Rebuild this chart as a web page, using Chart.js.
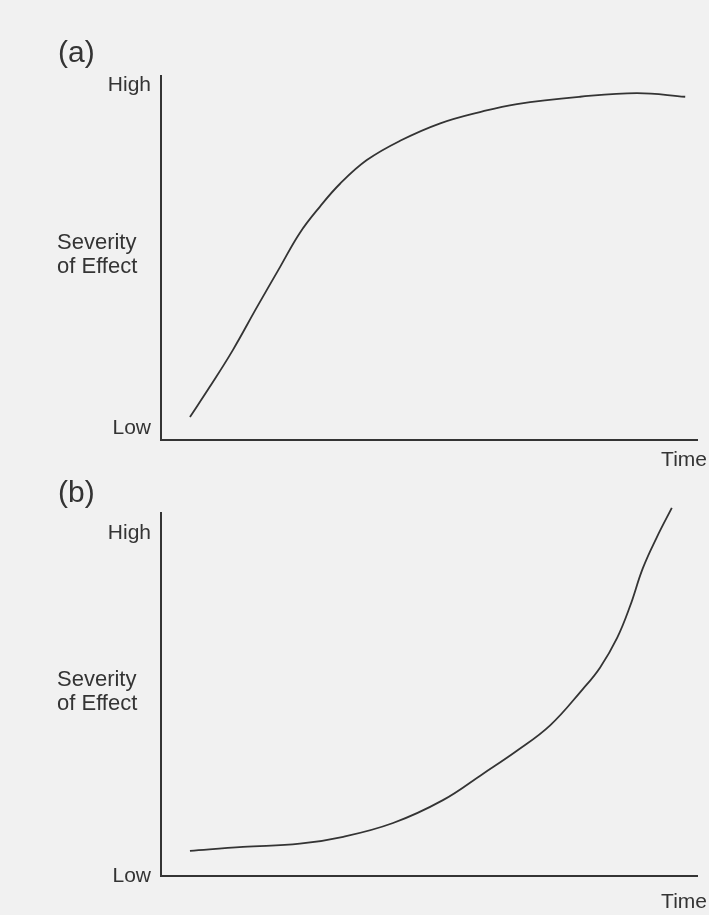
<!DOCTYPE html>
<html>
<head>
<meta charset="utf-8">
<script src="https://cdn.jsdelivr.net/npm/chart.js@4"></script>
<style>
body { margin: 0; background: #f1f1f1; }
canvas { position: absolute; left: 0; }
#chartA { top: 0; }
#chartB { top: 470px; }
</style>
</head>
<body>
<canvas id="chartA" width="709" height="470"></canvas>
<canvas id="chartB" width="709" height="445"></canvas>
<script>
// panel (a): rises fast then levels off
var timeA = [5.4, 9.1, 13.4, 17.9, 22.2, 25.9, 29.7, 33.4, 38.4, 44.6, 52.1, 59.5, 66.4, 78.2, 88.8, 97.8];
var severityA = [6.3, 14.6, 24.7, 36.5, 47.5, 56.9, 64.2, 70.4, 76.9, 82.2, 87.0, 90.1, 92.3, 94.3, 95.3, 94.3];

// panel (b): slow start then steep rise
var timeB = [5.4, 15.3, 25.9, 34.0, 43.3, 52.6, 60.1, 66.4, 72.6, 78.7, 81.9, 85.1, 87.5, 89.9, 92.5, 95.3];
var severityB = [6.9, 8.0, 8.9, 10.8, 14.6, 20.9, 28.2, 34.5, 41.5, 51.5, 57.4, 65.6, 74.3, 84.8, 93.3, 101.4];

var tickLabels = ['Low', 'High'];
var tickValsA = [3.3, 97.5];
var tickValsB = [0, 94.4];
var yTitle = ['Severity', 'of Effect'];
var xTitle = 'Time';

var ink = '#343434';
var font = 'Liberation Sans, Arial, sans-serif';

var panelText = {
    id: 'panelText',
    afterDraw: function(chart, args, opts) {
        var c = chart.ctx;
        c.save();
        c.fillStyle = ink;
        c.textBaseline = 'middle';
        c.textAlign = 'left';
        c.font = '30px ' + font;
        c.fillText(opts.label, 58, opts.labelY);
        c.font = '22px ' + font;
        c.fillText(yTitle[0], 57, opts.titleY);
        c.fillText(yTitle[1], 57, opts.titleY + 24);
        c.font = '21px ' + font;
        c.textAlign = 'right';
        c.fillText(xTitle, 707, opts.timeY);
        c.restore();
    }
};

function makeChart(id, xs, ys, tickVals, padTop, axisH, txt) {
    var pts = xs.map(function(x, i) { return {x: x, y: ys[i]}; });
    return new Chart(document.getElementById(id), {
        type: 'line',
        data: {
            datasets: [{
                data: pts,
                borderColor: ink,
                borderWidth: 1.8,
                pointRadius: 0,
                fill: false,
                tension: 0.4,
                clip: false
            }]
        },
        options: {
            responsive: false,
            animation: false,
            layout: { padding: { top: padTop, right: 12, left: 0, bottom: 0 } },
            plugins: {
                legend: { display: false },
                tooltip: { enabled: false },
                panelText: txt
            },
            scales: {
                x: {
                    type: 'linear', min: 0, max: 100,
                    grid: { display: false, drawTicks: false },
                    border: { color: ink, width: 2 },
                    ticks: { display: false },
                    afterFit: function(s) { s.height = axisH; }
                },
                y: {
                    min: 0, max: 100,
                    grid: { display: false, drawTicks: false },
                    border: { color: ink, width: 2 },
                    ticks: {
                        padding: 10,
                        color: ink,
                        font: { family: font, size: 21 },
                        callback: function(v, i) { return tickLabels[i]; }
                    },
                    afterBuildTicks: function(s) {
                        s.ticks = tickVals.map(function(v) { return {value: v}; });
                    },
                    afterFit: function(s) { s.width = 161; }
                }
            }
        },
        plugins: [panelText]
    });
}

makeChart('chartA', timeA, severityA, tickValsA, 76, 30, {label: '(a)', labelY: 54, titleY: 243, timeY: 460});
makeChart('chartB', timeB, severityB, tickValsB, 43, 39, {label: '(b)', labelY: 24, titleY: 210, timeY: 432});
</script>
</body>
</html>
